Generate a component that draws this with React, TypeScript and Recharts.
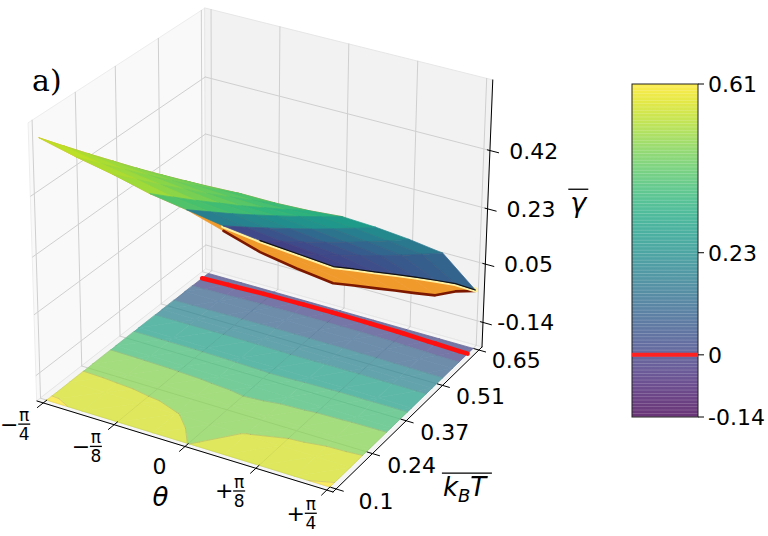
import React from 'react';
import { ScatterChart, Scatter, XAxis, YAxis, BarChart, Bar, ReferenceLine } from 'recharts';

const W = 768;
const H = 536;
const Q = Math.PI / 4;

// sample grid of the surface
const thetaGrid = [-Q, -0.75 * Q, -0.5 * Q, -0.25 * Q, 0, 0.25 * Q, 0.5 * Q, 0.75 * Q, Q];
const kTGrid = [0.1, 0.179, 0.257, 0.336, 0.414, 0.493, 0.571, 0.65];

// upper sheet of gamma-bar, one row per kT value, one column per theta value
const gammaUpper = [
  [0.6, 0.57, 0.545, 0.515, 0.495, 0.475, 0.46, 0.45, 0.44],
  [0.524, 0.499, 0.478, 0.453, 0.437, 0.419, 0.405, 0.394, 0.38],
  [0.449, 0.429, 0.411, 0.391, 0.379, 0.364, 0.35, 0.339, 0.318],
  [0.373, 0.358, 0.344, 0.329, 0.321, 0.308, 0.295, 0.283, 0.255],
  [0.297, 0.287, 0.276, 0.266, 0.264, 0.252, 0.24, 0.227, 0.19],
  [0.221, 0.216, 0.209, 0.204, 0.206, 0.196, 0.185, 0.171, 0.122],
  [0.146, 0.146, 0.142, 0.142, 0.148, 0.141, 0.13, 0.116, 0.052],
  [0.07, 0.075, 0.075, 0.08, 0.09, 0.085, 0.075, 0.06, -0.03],
];

// lower sheet (seen from below along the front/right rim)
const gammaLower = [
  [0.6, 0.57, 0.545, 0.515, 0.495, 0.46, 0.425, 0.405, 0.39],
  [0.524, 0.499, 0.478, 0.453, 0.437, 0.404, 0.37, 0.349, 0.33],
  [0.449, 0.429, 0.411, 0.391, 0.379, 0.349, 0.315, 0.294, 0.268],
  [0.373, 0.358, 0.344, 0.329, 0.321, 0.293, 0.26, 0.238, 0.205],
  [0.297, 0.287, 0.276, 0.266, 0.264, 0.237, 0.205, 0.182, 0.14],
  [0.221, 0.216, 0.209, 0.204, 0.206, 0.181, 0.15, 0.126, 0.074],
  [0.146, 0.146, 0.142, 0.142, 0.148, 0.126, 0.095, 0.073, 0.027],
  [0.07, 0.075, 0.075, 0.08, 0.09, 0.07, 0.048, 0.035, -0.033],
];

// values projected as filled contours on the floor
const gammaFloor = [
  [0.625, 0.6, 0.575, 0.55, 0.515, 0.55, 0.575, 0.6, 0.625],
  [0.56, 0.553, 0.54, 0.52, 0.49, 0.52, 0.54, 0.553, 0.56],
  [0.486, 0.483, 0.477, 0.468, 0.455, 0.468, 0.477, 0.483, 0.486],
  [0.403, 0.402, 0.4, 0.396, 0.39, 0.396, 0.4, 0.402, 0.403],
  [0.31, 0.31, 0.31, 0.308, 0.305, 0.308, 0.31, 0.31, 0.31],
  [0.204, 0.205, 0.206, 0.206, 0.205, 0.206, 0.206, 0.205, 0.204],
  [0.083, 0.085, 0.088, 0.09, 0.09, 0.09, 0.088, 0.085, 0.083],
  [-0.03, -0.025, -0.02, -0.018, -0.017, -0.018, -0.02, -0.025, -0.03],
];

const contourLevels = [-0.14, -0.046, 0.0475, 0.141, 0.235, 0.329, 0.422, 0.516, 0.61, 0.7];

const thetaTicks = [-Q, -Q / 2, 0, Q / 2, Q];
const thetaTickSigns = ['\u2212', '\u2212', '', '+', '+'];
const thetaTickDens = ['4', '8', '', '8', '4'];
const kTTicks = [0.1, 0.24, 0.37, 0.51, 0.65];
const gammaTicks = [-0.14, 0.05, 0.23, 0.42];
const barTicks = [-0.14, 0, 0.23, 0.61];
const colorbarData = [{ name: 'gamma', span: [-0.14, 0.61] }];

// colour position (0..1 on viridis) along the front and back rim of the upper sheet
const shadeFront = [0.92, 0.9, 0.88, 0.86, 0.6, 0.22, 0.16, 0.16, 0.2];
const shadeBack = [0.76, 0.72, 0.68, 0.64, 0.6, 0.52, 0.46, 0.38, 0.28];

const VIRIDIS = ['#440154', '#471365', '#482475', '#453781', '#404688', '#3b528b', '#355f8d', '#2f6c8e', '#2a788e', '#25848e', '#21918c', '#1e9c89', '#22a884', '#2fb47c', '#44bf70', '#5ec962', '#7ad151', '#9bd93c', '#bddf26', '#dfe318', '#fde725'];

const FONT = '"DejaVu Sans", sans-serif';

function viridis(t: number) {
  const x = Math.max(0, Math.min(1, t)) * 20;
  const i = Math.min(19, Math.floor(x));
  const f = x - i;
  const a = VIRIDIS[i], b = VIRIDIS[i + 1];
  const ch = (s: string, o: number) => parseInt(s.slice(o, o + 2), 16);
  const mix = (o: number) => Math.round(ch(a, o) + (ch(b, o) - ch(a, o)) * f);
  return `rgb(${mix(1)},${mix(3)},${mix(5)})`;
}

// axis box limits
const TH0 = -0.82, TH1 = 0.82, K0 = 0.088, K1 = 0.662, Z0 = -0.22, Z1 = 0.65;

// oblique view of the box: floor corners, vertical scale and perspective lean
function project(th: number, k: number, z: number) {
  const a = (th - TH0) / (TH1 - TH0);
  const b = (k - K0) / (K1 - K0);
  const xf = 37 + 296 * a + 169 * b - 20 * a * b;
  const yf = 401 + 91 * a - 132 * b - 13 * a * b;
  const s = 320 + 15 * a - 20 * b - 8 * a * b;
  const h = (z - Z0) * s;
  return { px: xf + h * (xf - 230) * 0.00016, py: yf - h, depth: 1.732 * yf + 0.577 * h };
}

type P = { px: number; py: number; depth?: number };
type Poly = { pts: P[]; close?: boolean; fill?: string; stroke?: string; width?: number; depth?: number };

const noDot = () => <g />;

function layer(id: string, shapes: Poly[], opacity = 1) {
  const data = shapes.flatMap((s) => s.pts.map((p) => ({ px: p.px, py: p.py })));
  const draw = (props: any) => {
    const pts = (props.points || []) as { x: number; y: number }[];
    let at = 0;
    const els = shapes.map((s, si) => {
      const seg = pts.slice(at, at + s.pts.length);
      at += s.pts.length;
      const d = seg.map((p, j) => `${j ? 'L' : 'M'}${p.x.toFixed(2)},${p.y.toFixed(2)}`).join('') + (s.close ? 'Z' : '');
      return (
        <path key={si} d={d} fill={s.fill ?? 'none'} stroke={s.stroke ?? 'none'} strokeWidth={s.width ?? 1}
          strokeLinecap="round" strokeLinejoin="round" />
      );
    });
    return <g opacity={opacity}>{els}</g>;
  };
  return <Scatter key={id} name={id} data={data} line={draw} shape={noDot} isAnimationActive={false} />;
}

const seg = (p: P, q: P, stroke: string, width = 1): Poly => ({ pts: [p, q], stroke, width });

// panes and grid
const paneShapes: Poly[] = [
  { pts: [project(TH0, K0, Z0), project(TH0, K1, Z0), project(TH0, K1, Z1), project(TH0, K0, Z1)], close: true, fill: '#f9f9f9', stroke: '#ededed' },
  { pts: [project(TH0, K1, Z0), project(TH1, K1, Z0), project(TH1, K1, Z1), project(TH0, K1, Z1)], close: true, fill: '#f2f2f2', stroke: '#e6e6e6' },
  { pts: [project(TH0, K0, Z0), project(TH1, K0, Z0), project(TH1, K1, Z0), project(TH0, K1, Z0)], close: true, fill: '#f5f5f5', stroke: '#e6e6e6' },
];

const GRID = '#cfcfcf';
const gridShapes: Poly[] = [
  ...kTTicks.map((k) => seg(project(TH0, k, Z0), project(TH0, k, Z1), GRID)),
  ...gammaTicks.map((z) => seg(project(TH0, K0, z), project(TH0, K1, z), GRID)),
  ...thetaTicks.map((t) => seg(project(t, K1, Z0), project(t, K1, Z1), GRID)),
  ...gammaTicks.map((z) => seg(project(TH0, K1, z), project(TH1, K1, z), GRID)),
  ...thetaTicks.map((t) => seg(project(t, K0, Z0), project(t, K1, Z0), GRID)),
  ...kTTicks.map((k) => seg(project(TH0, k, Z0), project(TH1, k, Z0), GRID)),
];

const axisShapes: Poly[] = [
  seg(project(TH0, K0, Z0), project(TH1, K0, Z0), '#000'),
  seg(project(TH1, K0, Z0), project(TH1, K1, Z0), '#000'),
  seg(project(TH1, K1, Z0), project(TH1, K1, Z1), '#000'),
  ...thetaTicks.map((t) => seg(project(t, K0 + 0.012, Z0), project(t, K0 - 0.02, Z0), '#000')),
  ...kTTicks.map((k) => seg(project(TH1 - 0.03, k, Z0), project(TH1 + 0.04, k, Z0), '#000')),
  ...gammaTicks.map((z) => seg(project(TH1 - 0.015, K1, z), project(TH1 + 0.05, K1, z), '#000')),
];

// filled contours on the floor (linear on triangles)
type FV = { t: number; k: number; f: number };
function clip(poly: FV[], lvl: number, above: boolean): FV[] {
  const out: FV[] = [];
  for (let i = 0; i < poly.length; i++) {
    const p = poly[i], q = poly[(i + 1) % poly.length];
    const pin = above ? p.f >= lvl : p.f <= lvl;
    const qin = above ? q.f >= lvl : q.f <= lvl;
    if (pin) out.push(p);
    if (pin !== qin) {
      const r = (lvl - p.f) / (q.f - p.f);
      out.push({ t: p.t + r * (q.t - p.t), k: p.k + r * (q.k - p.k), f: lvl });
    }
  }
  return out;
}
function isoSegment(tri: FV[], lvl: number): FV[] | null {
  const cut: FV[] = [];
  for (let i = 0; i < 3; i++) {
    const p = tri[i], q = tri[(i + 1) % 3];
    if ((p.f - lvl) * (q.f - lvl) < 0) {
      const r = (lvl - p.f) / (q.f - p.f);
      cut.push({ t: p.t + r * (q.t - p.t), k: p.k + r * (q.k - p.k), f: lvl });
    }
  }
  return cut.length === 2 ? cut : null;
}
const floorTris: FV[][] = [];
for (let j = 0; j < kTGrid.length - 1; j++) {
  for (let i = 0; i < thetaGrid.length - 1; i++) {
    const v = (a: number, b: number): FV => ({ t: thetaGrid[a], k: kTGrid[b], f: gammaFloor[b][a] });
    floorTris.push([v(i, j), v(i + 1, j), v(i + 1, j + 1)], [v(i, j), v(i + 1, j + 1), v(i, j + 1)]);
  }
}
const floorP = (p: FV) => project(p.t, p.k, Z0);
const bandShapes: Poly[] = [];
for (let b = 0; b < contourLevels.length - 1; b++) {
  const lo = contourLevels[b], hi = contourLevels[b + 1];
  const mid = Math.min(1, ((lo + hi) / 2 + 0.14) / 0.75);
  const col = viridis(hi > 0.61 ? 1 : mid);
  floorTris.forEach((tri) => {
    const poly = clip(clip(tri, lo, true), hi, false);
    if (poly.length >= 3) bandShapes.push({ pts: poly.map(floorP), close: true, fill: col, stroke: col, width: 0.7 });
  });
}
const contourEdgeShapes: Poly[] = [];
contourLevels.slice(1, -1).forEach((lvl) => {
  floorTris.forEach((tri) => {
    const s = isoSegment(tri, lvl);
    if (s) contourEdgeShapes.push(seg(floorP(s[0]), floorP(s[1]), 'rgba(40,60,90,0.3)', 0.8));
  });
});
const zeroShapes: Poly[] = [];
floorTris.forEach((tri) => {
  const s = isoSegment(tri, 0);
  if (s) zeroShapes.push(seg(floorP(s[0]), floorP(s[1]), '#ff1010', 4.5));
});

// the two sheets of the surface
function sheetFaces(Z: number[][], paint: (i: number, j: number) => string): Poly[] {
  const faces: Poly[] = [];
  for (let j = 0; j < kTGrid.length - 1; j++) {
    for (let i = 0; i < thetaGrid.length - 1; i++) {
      const pts = [[i, j], [i + 1, j], [i + 1, j + 1], [i, j + 1]].map(([a, b]) => project(thetaGrid[a], kTGrid[b], Z[b][a]));
      const depth = pts.reduce((s, p) => s + p.depth, 0) / 4;
      const col = paint(i, j);
      faces.push({ pts, close: true, fill: col, stroke: col, width: 0.7, depth });
    }
  }
  return faces.sort((p, q) => (p.depth ?? 0) - (q.depth ?? 0));
}
const nRows = kTGrid.length - 1;
const shadeAt = (i: number, j: number) => shadeFront[i] * (1 - j / nRows) + shadeBack[i] * (j / nRows);
const upperFaces = sheetFaces(gammaUpper, (i, j) =>
  viridis((shadeAt(i, j) + shadeAt(i + 1, j) + shadeAt(i + 1, j + 1) + shadeAt(i, j + 1)) / 4));
const lowerFaces = sheetFaces(gammaLower, () => '#f09a2c');

// rims along the front (theta > 0) and right edge
const rim = (Z: number[][], from: number) => [
  ...thetaGrid.slice(from).map((t, n) => project(t, kTGrid[0], Z[0][from + n])),
  ...kTGrid.slice(1).map((k, n) => project(Q, k, Z[n + 1][8])),
];
const lowerRim: Poly[] = [{ pts: rim(gammaLower, 5), stroke: '#7c1800', width: 2.6 }];
const upperGlow: Poly[] = [{ pts: rim(gammaUpper, 5), stroke: '#fff0a0', width: 5 }];
const upperRim: Poly[] = [{ pts: rim(gammaUpper, 6), stroke: '#111', width: 1.2 }];

// labels
const labelPoints = [
  ...thetaTicks.map((t, i) => ({ ...project(t, -0.004, Z0), kind: 'theta', sign: thetaTickSigns[i], den: thetaTickDens[i] })),
  ...kTTicks.map((k) => ({ ...project(1.041, k, Z0), kind: 'tick', text: String(k) })),
  ...gammaTicks.map((g) => ({ ...project(1.017, 0.699, g), kind: 'tick', text: g.toFixed(2) })),
  { ...project(0, -0.002, -0.31), kind: 'thetaTitle' },
  { ...project(1.378, 0.222, Z0), kind: 'kTTitle' },
  { ...project(1.24, 0.733, 0.25), kind: 'gammaTitle' },
];

function renderLabel(props: any) {
  const { cx, cy, payload } = props;
  if (cx == null || cy == null) return <g />;
  const p = payload;
  if (p.kind === 'theta') {
    if (!p.den) {
      return <text x={cx} y={cy - 2} textAnchor="middle" dominantBaseline="central" fontSize={22} fontFamily={FONT}>0</text>;
    }
    return (
      <g fontFamily={FONT}>
        <text x={cx - 7} y={cy} textAnchor="middle" dominantBaseline="central" fontSize={22}>{p.sign}</text>
        <text x={cx + 8} y={cy - 3} textAnchor="middle" fontSize={17}>π</text>
        <line x1={cx + 2} x2={cx + 14} y1={cy} y2={cy} stroke="#000" strokeWidth={1.3} />
        <text x={cx + 8} y={cy + 16} textAnchor="middle" fontSize={17}>{p.den}</text>
      </g>
    );
  }
  if (p.kind === 'tick') {
    return <text x={cx} y={cy} textAnchor="middle" dominantBaseline="central" fontSize={22} fontFamily={FONT}>{p.text}</text>;
  }
  if (p.kind === 'thetaTitle') {
    return <text x={cx} y={cy + 8} textAnchor="middle" fontSize={26} fontStyle="italic" fontFamily={FONT}>θ</text>;
  }
  if (p.kind === 'kTTitle') {
    return (
      <g fontFamily={FONT}>
        <line x1={cx - 25} x2={cx + 25} y1={cy - 15} y2={cy - 15} stroke="#000" strokeWidth={1.3} />
        <text x={cx - 24} y={cy + 8} fontSize={26} fontStyle="italic">
          k<tspan fontSize={18} dy={6}>B</tspan><tspan dy={-6}>T</tspan>
        </text>
      </g>
    );
  }
  return (
    <g fontFamily={FONT}>
      <line x1={cx - 10} x2={cx + 10} y1={cy - 16} y2={cy - 16} stroke="#000" strokeWidth={1.3} />
      <text x={cx} y={cy + 7} textAnchor="middle" fontSize={27} fontStyle="italic">γ</text>
    </g>
  );
}

function ColorbarShape(props: any) {
  const { x, y, width, height } = props;
  return (
    <g>
      <rect x={x} y={y} width={width} height={height} fill="url(#cbFill)" />
      <rect x={x} y={y} width={width} height={height} fill="url(#cbStripes)" />
      <rect x={x} y={y} width={width} height={height} fill="none" stroke="#222" strokeWidth={1} />
    </g>
  );
}

export default function App() {
  return (
    <div style={{ position: 'absolute', left: 0, top: 0, width: W, height: H, background: '#fff' }}>
      <ScatterChart width={W} height={H} margin={{ top: 0, right: 0, bottom: 0, left: 0 }}>
        <XAxis type="number" dataKey="px" domain={[0, W]} hide allowDataOverflow />
        <YAxis type="number" dataKey="py" domain={[0, H]} reversed hide allowDataOverflow />
        {layer('panes', paneShapes)}
        {layer('grid', gridShapes)}
        {layer('floor', [...bandShapes, ...contourEdgeShapes], 0.7)}
        {layer('zero', zeroShapes)}
        {layer('axes', axisShapes)}
        {layer('lower', lowerFaces)}
        {layer('lowerRim', lowerRim)}
        {layer('glow', upperGlow)}
        {layer('upper', upperFaces)}
        {layer('upperRim', upperRim)}
        <Scatter name="labels" data={labelPoints} shape={renderLabel} isAnimationActive={false} />
      </ScatterChart>
      <svg width={110} height={110} style={{ position: 'absolute', left: 0, top: 0 }}>
        <text x={32} y={91} fontSize={30} fontFamily='"DejaVu Serif", serif'>a)</text>
      </svg>
      <div style={{ position: 'absolute', left: 620, top: 0 }}>
        <BarChart width={150} height={H} data={colorbarData} margin={{ top: 84, right: 0, bottom: 119, left: 12 }} barCategoryGap={0}>
          <defs>
            <linearGradient id="cbFill" x1="0" y1="1" x2="0" y2="0">
              {VIRIDIS.map((c, i) => (
                <stop key={i} offset={i / 20} stopColor={c} stopOpacity={0.8} />
              ))}
            </linearGradient>
            <pattern id="cbStripes" width={8} height={3.33} patternUnits="userSpaceOnUse">
              <rect x={0} y={0} width={8} height={0.8} fill="#ffffff" opacity={0.22} />
            </pattern>
          </defs>
          <XAxis dataKey="name" hide />
          <YAxis orientation="right" width={72} domain={[-0.14, 0.61]} ticks={barTicks} interval={0}
            tickFormatter={(v: number) => (v === 0 ? '0' : v.toFixed(2))} axisLine={false}
            tickLine={{ stroke: '#000' }} tickSize={6} tickMargin={4}
            tick={{ fontSize: 22, fill: '#000', fontFamily: FONT }} />
          <Bar dataKey="span" isAnimationActive={false} shape={ColorbarShape} />
          <ReferenceLine y={0} stroke="#ff2020" strokeWidth={4} />
        </BarChart>
      </div>
    </div>
  );
}
